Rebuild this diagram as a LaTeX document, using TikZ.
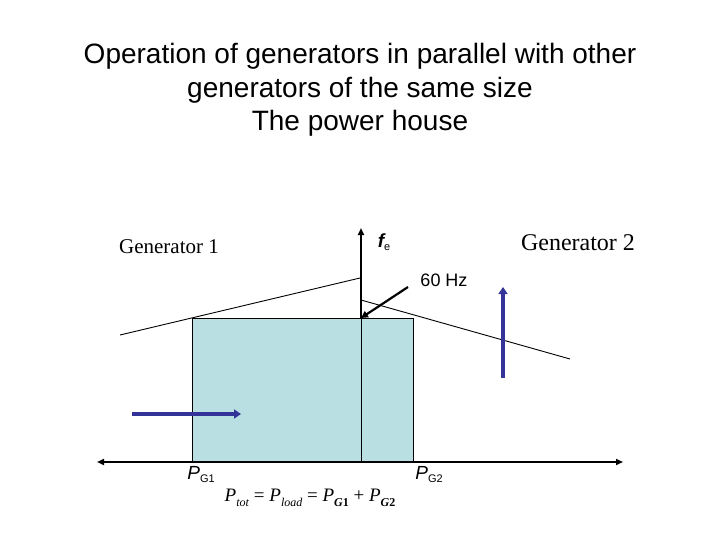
\documentclass[tikz,border=0pt]{standalone}
\usepackage{fontspec}
\setmainfont{Liberation Sans}
\newfontfamily\timesfont{Liberation Serif}
\usetikzlibrary{arrows.meta,positioning}
\definecolor{loadfill}{HTML}{B9DFE3}
\definecolor{genblue}{HTML}{333399}
\newcommand{\lowsub}[1]{\raisebox{-0.3em}{\fontsize{11}{12}\selectfont #1}}
\newcommand{\eqsub}[1]{\raisebox{-0.25em}{\fontsize{12}{12}\selectfont #1}}

\begin{document}
\begin{tikzpicture}[
    x=1pt, y=-1pt,
    txt/.style={inner sep=0pt, outer sep=0pt},
    thinline/.style={draw=black, line width=0.9pt},
    loadbox/.style={rectangle, draw=black, line width=0.9pt, fill=loadfill, inner sep=0pt, outer sep=0pt},
    axis/.style={draw=black, line width=2pt},
    hzarrow/.style={draw=black, line width=2.2pt, -{Triangle[length=7pt,width=7pt]}},
    genarrow/.style={draw=genblue, line width=4.5pt, -{Triangle[length=7pt,width=9pt]}}
]
    \useasboundingbox (0,0) rectangle (720,540);

    % Title
    \node[txt, align=center, font=\fontsize{28}{33.5}\selectfont] (title) at (360,90)
        {Operation of generators in parallel with other\\generators of the same size\\The power house};

    % Load area
    \node[loadbox, minimum width=221pt, minimum height=144pt, anchor=north west] (load) at (192,318) {};

    % Axes
    \coordinate (origin) at (361,462);
    \coordinate (fbase) at (361,318);
    \coordinate (ftop) at (361,228);
    \coordinate (pleft) at (97,462);
    \coordinate (pright) at (623,462);
    \draw[thinline] (fbase) -- (origin);
    \draw[axis, {Triangle[length=7pt,width=6pt]}-{Triangle[length=7pt,width=6pt]}] (pleft) -- (pright);
    \draw[axis, -{Triangle[length=7pt,width=6pt]}] (fbase) -- (ftop);

    % Frequency-power lines
    \coordinate (g1low) at (120,335);
    \coordinate (g1high) at (360,278);
    \coordinate (g2high) at (361,300);
    \coordinate (g2low) at (570,359);
    \draw[thinline] (g1low) -- (g1high);
    \draw[thinline] (g2high) -- (g2low);

    % Labels
    \node[txt, font=\timesfont\fontsize{21}{24}\selectfont] (gen1) at (169,247) {Generator 1};
    \node[txt, font=\timesfont\fontsize{24}{28}\selectfont] (gen2) at (578,243) {Generator 2};
    \node[txt] (fe) at (384,242) {{\fontsize{19}{20}\selectfont\bfseries\itshape f}\lowsub{e}};
    \node[txt, font=\fontsize{18}{20}\selectfont] (hz) at (444,280) {60 Hz};
    \node[txt] (pg1) at (201,475) {{\fontsize{19}{20}\selectfont\itshape P}\lowsub{G1}};
    \node[txt] (pg2) at (429,475) {{\fontsize{19}{20}\selectfont\itshape P}\lowsub{G2}};
    \node[txt, font=\timesfont\fontsize{19}{20}\selectfont] (eqn) at (310,498)
        {\textit{P}\eqsub{\textit{tot}} = \textit{P}\eqsub{\textit{load}} = \textit{P}\eqsub{\textbf{\textit{G}1}} + \textit{P}\eqsub{\textbf{\textit{G}2}}};

    % 60 Hz pointer
    \coordinate (hztail) at (408,287);
    \draw[hzarrow] (hztail) -- (fbase);

    % Generator shifts
    \coordinate (b1tail) at (132,414);
    \coordinate (b1head) at (241,414);
    \coordinate (b2tail) at (503,378);
    \coordinate (b2head) at (503,287);
    \draw[genarrow] (b1tail) -- (b1head);
    \draw[genarrow] (b2tail) -- (b2head);
\end{tikzpicture}
\end{document}
